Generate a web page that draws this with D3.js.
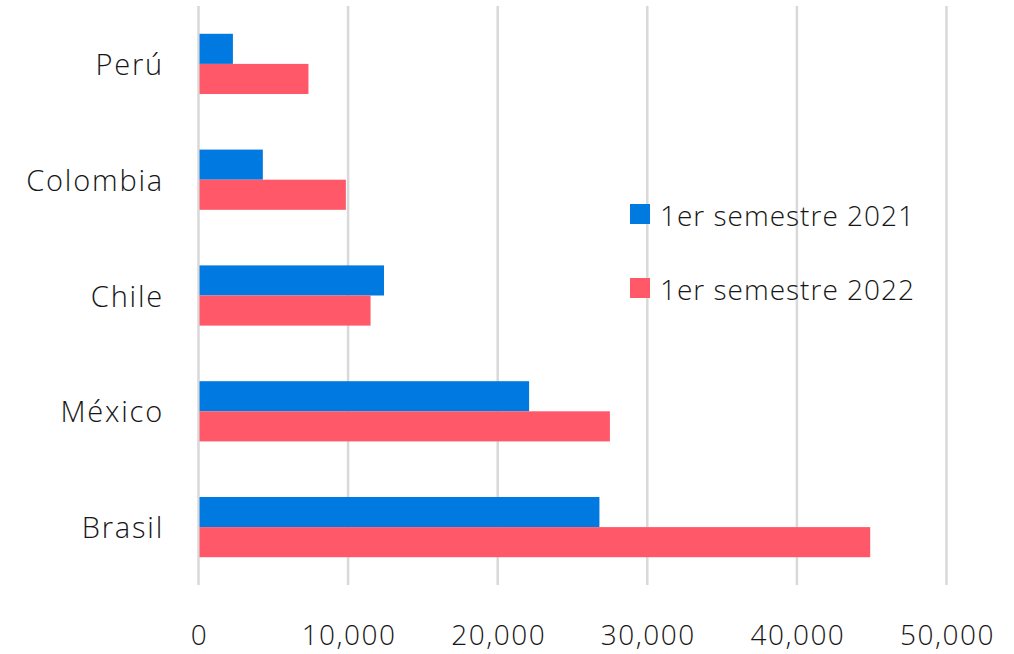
<!DOCTYPE html>
<html>
<head>
<meta charset="utf-8">
<script src="https://cdn.jsdelivr.net/npm/d3@7"></script>
<style>
  body { margin: 0; background: #fff; }
  svg text { font-family: "Open Sans", "Noto Sans", sans-serif; font-weight: 300; fill: #161616; }
</style>
</head>
<body>
<svg id="chart" width="1014" height="654"></svg>
<script>
// data
var countries = ['Perú', 'Colombia', 'Chile', 'México', 'Brasil'];
var sem2021 = [2300, 4300, 12400, 22100, 26800];
var sem2022 = [7350, 9850, 11500, 27500, 44900];
var seriesNames = ['1er semestre 2021', '1er semestre 2022'];
var seriesColors = ['#007ae0', '#ff5869'];
var xTicks = [0, 10000, 20000, 30000, 40000, 50000];

var svg = d3.select('#chart');

var x = d3.scaleLinear().domain([0, 50000]).range([198.5, 946.5]);
var y = d3.scaleBand().domain(countries).range([6, 585]).paddingInner(0.48).paddingOuter(0.24);
var ySub = d3.scaleBand().domain([0, 1]).range([0, y.bandwidth()]);

// vertical grid lines
svg.append('g')
    .selectAll('line')
    .data(xTicks)
    .join('line')
    .attr('x1', function(d) { return x(d); })
    .attr('x2', function(d) { return x(d); })
    .attr('y1', 6)
    .attr('y2', 585)
    .attr('stroke', '#d9d9d9')
    .attr('stroke-width', 2.5);

// bars
var rows = countries.map(function(c, i) {
    return { country: c, values: [sem2021[i], sem2022[i]] };
});

var groups = svg.append('g')
    .selectAll('g')
    .data(rows)
    .join('g')
    .attr('transform', function(d) { return 'translate(0,' + y(d.country) + ')'; });

groups.selectAll('rect')
    .data(function(d) { return d.values; })
    .join('rect')
    .attr('x', x(0) + 1)
    .attr('y', function(d, i) { return ySub(i); })
    .attr('width', function(d) { return x(d) - x(0) - 1; })
    .attr('height', ySub.bandwidth())
    .attr('fill', function(d, i) { return seriesColors[i]; });

// category labels (letter-spacing adds a trailing gap, so nudge x right)
svg.append('g')
    .selectAll('text')
    .data(countries)
    .join('text')
    .attr('x', 164)
    .attr('y', function(d) { return y(d) + y.bandwidth() / 2 + 11; })
    .attr('text-anchor', 'end')
    .attr('font-size', 29)
    .attr('letter-spacing', 1.8)
    .text(function(d) { return d; });

// x tick labels
svg.append('g')
    .selectAll('text')
    .data(xTicks)
    .join('text')
    .attr('x', function(d) { return x(d) + 1; })
    .attr('y', 645)
    .attr('text-anchor', 'middle')
    .attr('font-size', 28)
    .attr('letter-spacing', 1.5)
    .text(function(d) { return d3.format(',')(d); });

// legend
var legend = svg.append('g')
    .selectAll('g')
    .data(seriesNames)
    .join('g')
    .attr('transform', function(d, i) { return 'translate(630,' + (204 + i * 74) + ')'; });

legend.append('rect')
    .attr('width', 20)
    .attr('height', 20)
    .attr('fill', function(d, i) { return seriesColors[i]; });

legend.append('text')
    .attr('x', 30)
    .attr('y', 22)
    .attr('font-size', 28)
    .attr('letter-spacing', 1)
    .text(function(d) { return d; });
</script>
</body>
</html>
